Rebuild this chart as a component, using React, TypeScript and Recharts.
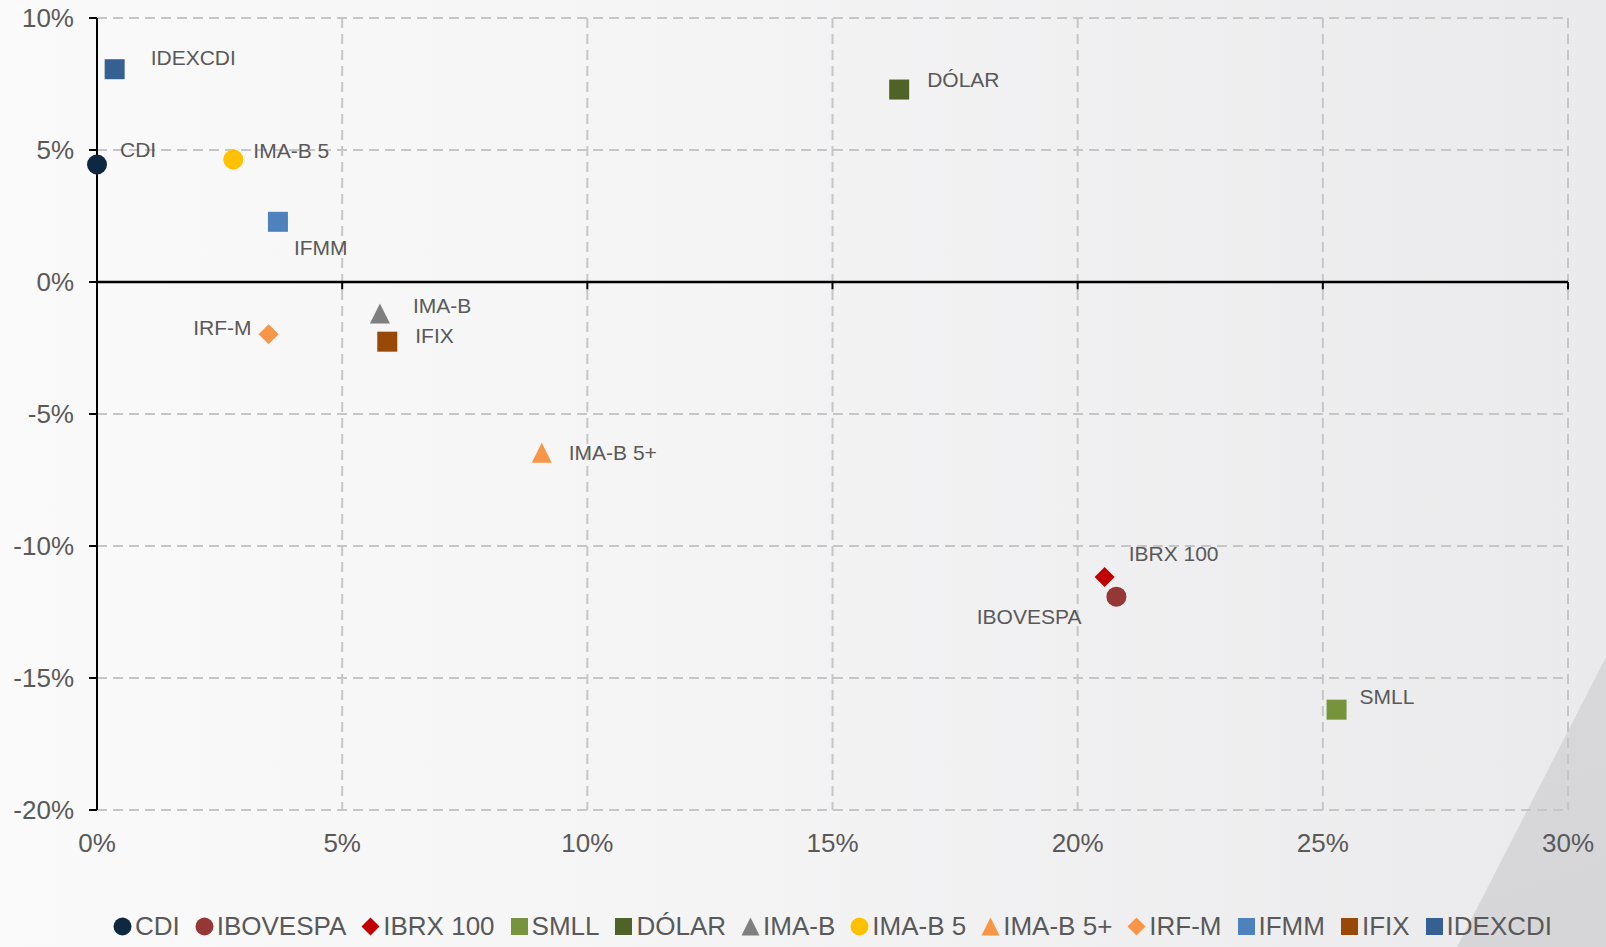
import React from 'react';
import { ScatterChart, Scatter, XAxis, YAxis, CartesianGrid, ReferenceLine } from 'recharts';

// risk (x, % volatility) vs return (y, %) for each index
const seriesNames = ['CDI', 'IBOVESPA', 'IBRX 100', 'SMLL', 'DÓLAR', 'IMA-B', 'IMA-B 5', 'IMA-B 5+', 'IRF-M', 'IFMM', 'IFIX', 'IDEXCDI'];
const volatility = [0.0, 20.79, 20.55, 25.28, 16.36, 5.77, 2.78, 9.07, 3.5, 3.69, 5.92, 0.36];
const returns = [4.45, -11.92, -11.17, -16.2, 7.29, -1.19, 4.64, -6.47, -1.98, 2.28, -2.26, 8.06];

const xTicks = [0, 5, 10, 15, 20, 25, 30];
const yTicks = [-20, -15, -10, -5, 0, 5, 10];

type ShapeKind = 'circle' | 'square' | 'diamond' | 'triangle';

const seriesShapes: ShapeKind[] = ['circle', 'circle', 'diamond', 'square', 'square', 'triangle', 'circle', 'triangle', 'diamond', 'square', 'square', 'square'];
const seriesColors = ['#0E2841', '#953735', '#C00000', '#77933C', '#4F6228', '#7F7F7F', '#FFC000', '#F79646', '#F79646', '#4F81BD', '#984807', '#376092'];

// where each point label sits relative to its marker: [dx, dy, anchor]
const labelPlacement: Record<string, [number, number, 'start' | 'end']> = {
  'CDI': [23, -15, 'start'],
  'IBOVESPA': [-35, 20, 'end'],
  'IBRX 100': [24, -23, 'start'],
  'SMLL': [23, -13, 'start'],
  'DÓLAR': [28, -10, 'start'],
  'IMA-B': [33, -8, 'start'],
  'IMA-B 5': [20, -9, 'start'],
  'IMA-B 5+': [27, 0, 'start'],
  'IRF-M': [-17, -7, 'end'],
  'IFMM': [16, 26, 'start'],
  'IFIX': [28, -6, 'start'],
  'IDEXCDI': [36, -12, 'start'],
};

const FONT = '"Liberation Sans", Arial, sans-serif';
const TEXT = '#595959';

function Glyph({ kind, cx, cy, size, color }: { kind: ShapeKind; cx: number; cy: number; size: number; color: string }) {
  const h = size / 2;
  if (kind === 'circle') return <circle cx={cx} cy={cy} r={h} fill={color} />;
  if (kind === 'square') return <rect x={cx - h} y={cy - h} width={size} height={size} fill={color} />;
  if (kind === 'diamond')
    return <polygon points={`${cx},${cy - h} ${cx + h},${cy} ${cx},${cy + h} ${cx - h},${cy}`} fill={color} />;
  return <polygon points={`${cx},${cy - h} ${cx + h},${cy + h} ${cx - h},${cy + h}`} fill={color} />;
}

export default function App() {
  return (
    <div
      style={{
        position: 'absolute',
        left: 0,
        top: 0,
        width: 1606,
        height: 947,
        overflow: 'hidden',
        fontFamily: FONT,
        background: 'linear-gradient(90deg, #fafafa 0%, #f4f4f5 45%, #eaeaec 100%)',
      }}
    >
      {/* darker wedge in the lower right corner */}
      <div
        style={{
          position: 'absolute',
          inset: 0,
          background: 'linear-gradient(160deg, #e0e0e3 0%, #d6d6d9 100%)',
          clipPath: 'polygon(1606px 657px, 1606px 947px, 1457px 947px)',
        }}
      />
      <div style={{ position: 'absolute', left: 0, top: 0 }}>
        <ScatterChart width={1606} height={947} margin={{ top: 18, right: 38, left: 0, bottom: 77 }}>
          <CartesianGrid stroke="#c6c6c6" strokeWidth={2} strokeDasharray="10 6" />
          <XAxis
            type="number"
            dataKey="x"
            domain={[0, 30]}
            ticks={xTicks}
            tickFormatter={(v) => `${v}%`}
            axisLine={false}
            tickLine={false}
            tickSize={0}
            tickMargin={24}
            height={60}
            tick={{ fill: TEXT, fontSize: 26, fontFamily: FONT }}
          />
          <YAxis
            type="number"
            dataKey="y"
            domain={[-20, 10]}
            ticks={yTicks}
            tickFormatter={(v) => `${v}%`}
            axisLine={{ stroke: '#000', strokeWidth: 2 }}
            tickLine={{ stroke: '#000', strokeWidth: 2 }}
            tickSize={8}
            tickMargin={15}
            width={97}
            tick={{ fill: TEXT, fontSize: 26, fontFamily: FONT }}
          />
          <ReferenceLine y={0} stroke="#000" strokeWidth={2.5} />
          {xTicks.map((t) => (
            <ReferenceLine
              key={`tick-${t}`}
              segment={[{ x: t, y: 0 }, { x: t, y: -0.28 }]}
              stroke="#000"
              strokeWidth={2}
            />
          ))}
          {seriesNames.map((name, i) => (
            <Scatter
              key={name}
              name={name}
              data={[{ x: volatility[i], y: returns[i], name }]}
              isAnimationActive={false}
              shape={(p: any) => {
                const [dx, dy, anchor] = labelPlacement[name];
                return (
                  <g>
                    <Glyph kind={seriesShapes[i]} cx={p.cx} cy={p.cy} size={20} color={seriesColors[i]} />
                    <text
                      x={p.cx + dx}
                      y={p.cy + dy}
                      textAnchor={anchor}
                      dominantBaseline="central"
                      fontSize={21}
                      fontFamily={FONT}
                      fill={TEXT}
                    >
                      {name}
                    </text>
                  </g>
                );
              }}
            />
          ))}
        </ScatterChart>
      </div>
      {/* legend */}
      <div
        style={{
          position: 'absolute',
          left: 97,
          width: 1471,
          top: 907,
          height: 38,
          display: 'flex',
          justifyContent: 'center',
          alignItems: 'center',
          gap: 15,
        }}
      >
        {seriesNames.map((name, i) => (
          <div key={name} style={{ display: 'flex', alignItems: 'center' }}>
            <svg width={19} height={19} style={{ marginRight: 3 }}>
              <Glyph kind={seriesShapes[i]} cx={9.5} cy={9.5} size={seriesShapes[i] === 'square' ? 17 : 18} color={seriesColors[i]} />
            </svg>
            <span style={{ fontSize: 26, color: TEXT, lineHeight: '30px', whiteSpace: 'nowrap' }}>{name}</span>
          </div>
        ))}
      </div>
    </div>
  );
}
